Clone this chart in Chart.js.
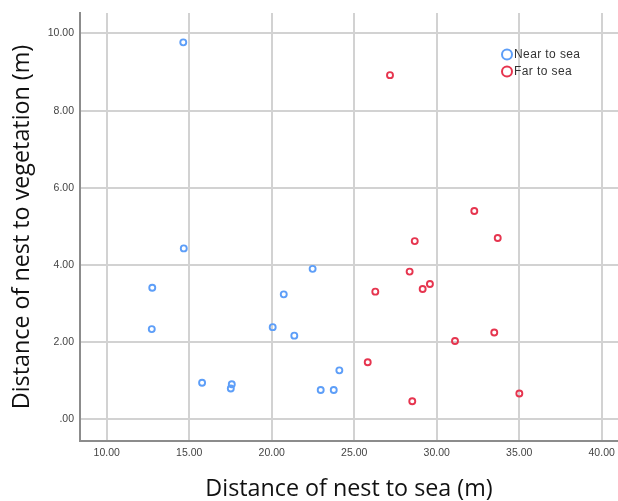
<!DOCTYPE html>
<html>
<head>
<meta charset="utf-8">
<script src="https://cdn.jsdelivr.net/npm/chart.js@4/dist/chart.umd.min.js"></script>
<style>
  html, body { margin: 0; padding: 0; background: #fff; }
</style>
</head>
<body>
<canvas id="scatter" width="618" height="501"></canvas>
<script>
const seriesNames = ["Near to sea", "Far to sea"];

// distance to sea (m) / distance to vegetation (m)
const nearSeaX = [14.64, 14.67, 12.76, 12.73, 15.78, 17.58, 17.52, 20.06, 20.73, 21.37, 22.48, 24.10, 22.97, 23.76];
const nearSeaY = [9.77, 4.43, 3.41, 2.34, 0.95, 0.91, 0.80, 2.39, 3.24, 2.17, 3.90, 1.27, 0.76, 0.76];
const farSeaX = [27.17, 32.28, 33.70, 28.67, 28.36, 29.59, 29.15, 26.28, 33.49, 31.11, 25.82, 28.52, 35.01];
const farSeaY = [8.92, 5.40, 4.70, 4.62, 3.83, 3.51, 3.38, 3.31, 2.25, 2.03, 1.48, 0.47, 0.67];

const xTickValues = [10, 15, 20, 25, 30, 35, 40];
const xTickLabels = ["10.00", "15.00", "20.00", "25.00", "30.00", "35.00", "40.00"];
const yTickValues = [0, 2, 4, 6, 8, 10];
const yTickLabels = [".00", "2.00", "4.00", "6.00", "8.00", "10.00"];

const toPoints = (xs, ys) => xs.map((x, i) => ({ x: x, y: ys[i] }));

const gridColor = "#d2d2d2";
const axisColor = "#8c8c8c";
const tickFont = { family: "Arial, 'Liberation Sans', sans-serif", size: 10.5 };
const titleFont = { family: "'Open Sans', 'Noto Sans', sans-serif", size: 23.3, lineHeight: 1 };

// legend drawn inside the plot, top right
const cornerLegend = {
  id: "cornerLegend",
  afterDraw(chart) {
    const ctx = chart.ctx;
    ctx.save();
    ctx.font = "12px Arial, 'Liberation Sans', sans-serif";
    ctx.letterSpacing = "0.4px";
    ctx.textBaseline = "middle";
    chart.data.datasets.forEach((ds, i) => {
      const cx = 507, cy = 54.5 + i * 17;
      ctx.beginPath();
      ctx.arc(cx, cy, 5, 0, Math.PI * 2);
      ctx.lineWidth = 2;
      ctx.strokeStyle = ds.borderColor;
      ctx.stroke();
      ctx.fillStyle = "#333";
      ctx.fillText(ds.label, 514, cy + 0.5);
    });
    ctx.restore();
  },
};

new Chart(document.getElementById("scatter").getContext("2d"), {
  type: "scatter",
  data: {
    datasets: [
      {
        label: seriesNames[0],
        data: toPoints(nearSeaX, nearSeaY),
        borderColor: "#5d9ef8",
        backgroundColor: "rgba(255,255,255,0)",
        pointRadius: 3,
        borderWidth: 1.9,
      },
      {
        label: seriesNames[1],
        data: toPoints(farSeaX, farSeaY),
        borderColor: "#e6354f",
        backgroundColor: "rgba(255,255,255,0)",
        pointRadius: 3,
        borderWidth: 1.9,
      },
    ],
  },
  options: {
    responsive: false,
    animation: false,
    layout: { autoPadding: false, padding: { top: 13, right: 0, bottom: 0, left: 0 } },
    plugins: {
      legend: { display: false },
      tooltip: { enabled: false },
    },
    scales: {
      x: {
        type: "linear",
        min: 8.38,
        max: 40.99,
        afterBuildTicks: (s) => { s.ticks = xTickValues.map((v) => ({ value: v })); },
        afterFit: (s) => { s.height = 60; s.paddingLeft = 0; s.paddingRight = 0; },
        grid: { color: gridColor, lineWidth: 2, drawTicks: false },
        border: { color: axisColor, width: 2 },
        ticks: {
          color: "#444",
          font: tickFont,
          padding: 6,
          maxRotation: 0,
          callback: (v) => xTickLabels[xTickValues.indexOf(v)],
        },
        title: {
          display: true,
          text: "Distance of nest to sea (m)",
          color: "#111",
          font: titleFont,
          padding: { top: 0, bottom: 0 },
        },
      },
      y: {
        type: "linear",
        min: -0.56,
        max: 10.53,
        afterBuildTicks: (s) => { s.ticks = yTickValues.map((v) => ({ value: v })); },
        afterFit: (s) => { s.width = 80; s.paddingTop = 0; s.paddingBottom = 0; },
        grid: { color: gridColor, lineWidth: 2, drawTicks: false },
        border: { color: axisColor, width: 2 },
        ticks: {
          color: "#444",
          font: tickFont,
          padding: 6,
          callback: (v) => yTickLabels[yTickValues.indexOf(v)],
        },
        title: {
          display: true,
          text: "Distance of nest to vegetation (m)",
          color: "#111",
          font: titleFont,
          padding: { top: 11, bottom: 0 },
        },
      },
    },
  },
  plugins: [cornerLegend],
});
</script>
</body>
</html>
